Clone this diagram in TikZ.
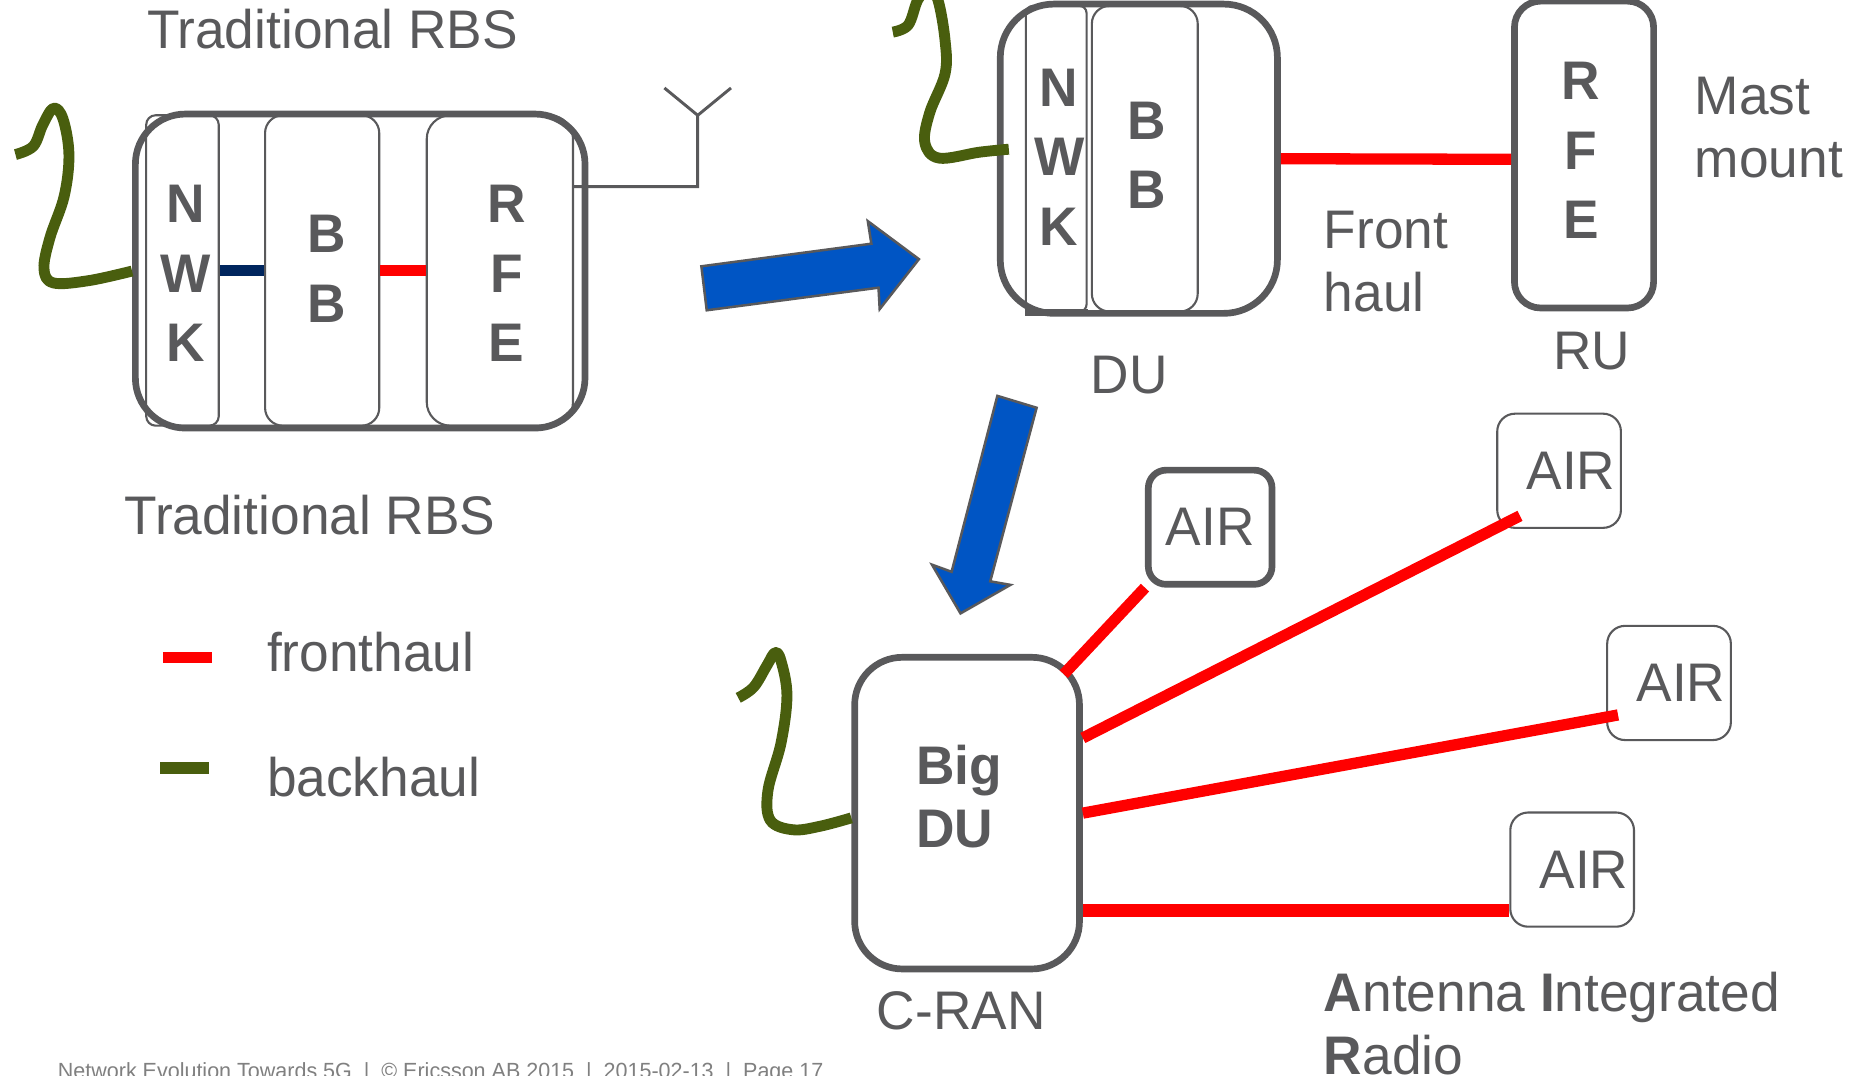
\documentclass[tikz,border=0pt]{standalone}
\usepackage{fontspec}
\setmainfont{Liberation Sans}[FakeStretch=0.98]
\usetikzlibrary{positioning}

\definecolor{boxgrey}{RGB}{89,89,91}
\definecolor{footgrey}{RGB}{128,128,128}
\definecolor{fhred}{RGB}{255,0,0}
\definecolor{bhgreen}{RGB}{73,94,14}
\definecolor{linknavy}{RGB}{0,38,94}
\definecolor{arrowblue}{RGB}{0,85,196}

\newcommand{\labelfont}{\fontsize{13}{15.1}\selectfont}
\newcommand{\letterfont}{\fontsize{13}{16.6}\selectfont\bfseries}

\begin{document}
\begin{tikzpicture}[
        x=0.01cm, y=-0.01cm,
        every node/.style={text=boxgrey},
        unitbox/.style={draw=boxgrey, line width=1.6pt, rounded corners=0.42cm, fill=white, inner sep=0pt},
        panel/.style={draw=boxgrey, line width=0.5pt, inner sep=0pt},
        letters/.style={inner sep=0pt, align=center, font=\letterfont},
        airbox/.style={draw=boxgrey, rounded corners=0.15cm, fill=white, inner sep=0pt, minimum width=1.04cm, minimum height=0.96cm, font=\labelfont},
        plainlabel/.style={inner sep=0pt, font=\labelfont, align=left},
        fronthaul/.style={draw=fhred, line width=2.7pt},
        backhaul/.style={draw=bhgreen, line width=2.6pt, line join=round},
        bigarrow/.style={fill=arrowblue, draw=boxgrey, line width=0.6pt}
    ]

    \fill[white] (0,0) rectangle (1568,905);
    \useasboundingbox (0,0) rectangle (1568,905);

    % --- Traditional RBS ---
    \node[plainlabel, anchor=base west] (titleTop) at (123,41) {Traditional RBS};
    \node[unitbox, minimum width=3.78cm, minimum height=2.64cm] (rbs) at (303,228) {};
    \node[panel, rounded corners=0.08cm, minimum width=0.61cm, minimum height=2.61cm] (rbsNwk) at (153.5,227.5) {};
    \node[panel, rounded corners=0.15cm, minimum width=0.96cm, minimum height=2.61cm] (rbsBb) at (271,227.5) {};
    \node[panel, rounded corners=0.2cm, minimum width=1.23cm, minimum height=2.61cm] (rbsRfe) at (420.5,227.5) {};
    \node[letters] (rbsNwkText) at (156.5,230) {N\\W\\K};
    \node[letters] (rbsBbText) at (275,226) {B\\B};
    \node[letters] (rbsRfeText) at (426,230) {R\\F\\E};
    \draw[draw=linknavy, line width=2.8pt] (rbsNwk.east) -- (rbsBb.west);
    \draw[fronthaul] (rbsBb.east) -- (rbsRfe.west);
    \draw[boxgrey, line width=0.7pt] ([shift={(0,-70.5)}]rbsRfe.east) -- ++(104,0) -- ++(0,-60) coordinate (mastTop) -- ++(-28,-23);
    \draw[boxgrey, line width=0.7pt] (mastTop) -- ++(28,-23);
    \draw[backhaul] plot[smooth, tension=0.6] coordinates {(rbs.west) (75,236) (45,238) (37,226) (42,200) (54,165) (58,130) (53,100) (45,91) (36,105) (28,123) (13,130)};
    \node[plainlabel, anchor=base west] (titleRbs) at (104,450) {Traditional RBS};

    % --- Legend ---
    \draw[fronthaul, line width=2.8pt] (137,553) -- (178,553);
    \node[plainlabel, anchor=base west] (legFront) at (224,565) {fronthaul};
    \draw[backhaul, line width=2.8pt] (135,646) -- (176,646);
    \node[plainlabel, anchor=base west] (legBack) at (224,670) {backhaul};

    % --- Arrows ---
    \draw[bigarrow] (590,224) -- (733,205) -- (730,186) -- (773,218) -- (740,260) -- (739,242) -- (594.5,261) -- cycle;
    \draw[bigarrow] (839,333) -- (872,343) -- (833,489) -- (850,492) -- (808,516) -- (784,475) -- (800.5,481) -- cycle;

    % --- DU and RU ---
    \node[unitbox, rounded corners=0.45cm, minimum width=2.33cm, minimum height=2.6cm] (du) at (958,133.5) {};
    \node[panel, rounded corners=0.06cm, minimum width=0.51cm, minimum height=2.57cm] (duNwk) at (888.5,133.5) {};
    \node[panel, rounded corners=0.15cm, minimum width=0.89cm, minimum height=2.57cm] (duBb) at (963,133.5) {};
    \node[letters] (duNwkText) at (891,132) {N\\W\\K};
    \node[letters] (duBbText) at (965,130.5) {B\\B};
    \draw[boxgrey, line width=1.6pt] (duNwk.south west) -- (duNwk.south east);
    \node[unitbox, rounded corners=0.22cm, minimum width=1.17cm, minimum height=2.58cm] (ru) at (1332.5,130) {};
    \node[letters] (ruText) at (1330,126.5) {R\\F\\E};
    \draw[fronthaul] (du.east) -- ([shift={(0,4)}]ru.west);
    \draw[backhaul] plot[smooth, tension=0.6] coordinates {([shift={(10,-8)}]du.west) (824,128) (790,133) (778,120) (782,95) (795,62) (795,34) (789,0) (781,-10) (772,0) (764,21) (751,27)};
    \node[plainlabel, anchor=base west] (duLabel) at (917,331) {DU};
    \node[plainlabel, anchor=base west] (ruLabel) at (1306,311) {RU};
    \node[plainlabel, anchor=north west] (fhLabel) at (1113,177) {Front\\haul};
    \node[plainlabel, anchor=north west] (mastLabel) at (1425,64) {Mast\\mount};

    % --- C-RAN ---
    \node[unitbox, rounded corners=0.4cm, minimum width=1.89cm, minimum height=2.62cm] (bigdu) at (813.5,684) {};
    \node[plainlabel, anchor=north west, font={\fontsize{13}{15.2}\selectfont\bfseries}] (bigduText) at (770,626) {Big\\DU};
    \node[airbox, line width=1.6pt] (air1) at (1018,443.5) {AIR};
    \node[airbox, line width=0.5pt] (air2) at (1311.5,396) {\hspace*{0.2cm}AIR};
    \node[airbox, line width=0.5pt] (air3) at (1404,574.5) {\hspace*{0.2cm}AIR};
    \node[airbox, line width=0.5pt] (air4) at (1322.5,731.5) {\hspace*{0.2cm}AIR};
    \coordinate (air1Foot) at ([shift={(-16,17)}]bigdu.north east);
    \draw[fronthaul] (air1.south west) -- (air1Foot);
    \draw[fronthaul] (bigdu.33) -- ([shift={(20,-11)}]air2.south west);
    \draw[fronthaul] (bigdu.east) -- ([shift={(10,-22)}]air3.south west);
    \draw[fronthaul, line width=3.1pt] (bigdu.-40) -- (bigdu.-40 -| air4.west);
    \draw[backhaul] plot[smooth, tension=0.6] coordinates {([shift={(0,4)}]bigdu.west) (690,695) (667,698) (648,690) (646,665) (657,625) (662,585) (657,556) (652,549) (645,560) (634,578) (621,587)};
    \node[plainlabel, anchor=base west] (cranLabel) at (737,866) {C-RAN};
    \node[plainlabel, anchor=north west] (airLabel) at (1113,817) {\textbf{A}ntenna \textbf{I}ntegrated\\\textbf{R}adio};

    % --- Footer ---
    \node[anchor=base west, inner sep=0pt, text=footgrey, font=\fontsize{5.25}{6}\selectfont] (footer) at (48,907)
    {Network Evolution Towards 5G\ \ |\ \ © Ericsson AB 2015\ \ |\ \ 2015-02-13\ \ |\ \ Page 17};

\end{tikzpicture}
\end{document}
